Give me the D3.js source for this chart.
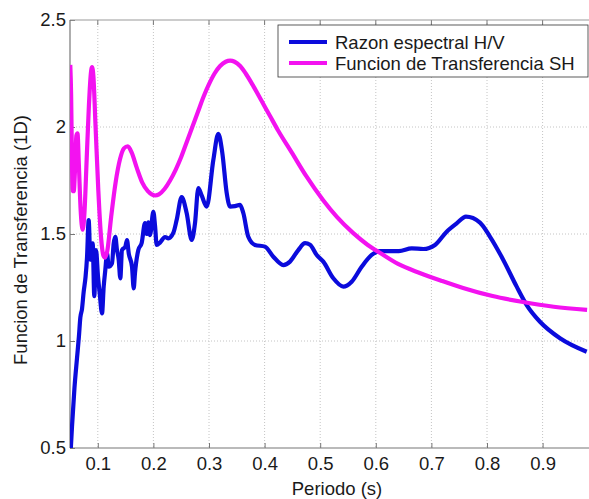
<!DOCTYPE html>
<html><head><meta charset="utf-8">
<script src="https://cdn.jsdelivr.net/npm/d3@7"></script>
<style>body{margin:0;background:#fff}svg{display:block}text{font-family:"Liberation Sans",Arial,sans-serif;fill:#1a1a1a}</style>
</head><body><svg id="c" width="589" height="499"></svg>
<script>
// Razon espectral H/V
const periodsHV = [0.0515,0.0536,0.058,0.0626,0.066,0.0686,0.0716,0.0746,0.078,0.0806,0.0836,0.0866,0.0908,0.0937,0.0968,0.1004,0.1034,0.1076,0.1106,0.1135,0.1166,0.1196,0.1255,0.1286,0.1315,0.1345,0.1376,0.1405,0.1435,0.1495,0.1525,0.1556,0.1615,0.1646,0.1669,0.1729,0.1789,0.1849,0.1879,0.1909,0.1939,0.1999,0.2029,0.2059,0.2119,0.2209,0.2268,0.2358,0.2418,0.2508,0.2598,0.2689,0.2748,0.2808,0.2868,0.2959,0.3078,0.3167,0.3239,0.3318,0.3378,0.3468,0.3558,0.3617,0.3707,0.3827,0.4007,0.4157,0.4336,0.4457,0.4606,0.4727,0.4817,0.4937,0.5056,0.5236,0.5416,0.5566,0.5746,0.5926,0.6076,0.6255,0.6415,0.6646,0.6854,0.7065,0.7275,0.7455,0.7622,0.7874,0.8055,0.8293,0.8534,0.8714,0.8953,0.9313,0.9793];
const hvValues = [0.50,0.60,0.78,0.92,1.02,1.11,1.15,1.23,1.30,1.39,1.565,1.38,1.456,1.21,1.425,1.30,1.223,1.129,1.254,1.332,1.41,1.347,1.363,1.456,1.487,1.425,1.38,1.293,1.425,1.441,1.472,1.41,1.347,1.246,1.318,1.425,1.458,1.551,1.50,1.555,1.495,1.603,1.54,1.449,1.46,1.486,1.48,1.505,1.565,1.673,1.598,1.472,1.55,1.715,1.68,1.628,1.846,1.968,1.88,1.692,1.628,1.63,1.636,1.598,1.487,1.449,1.441,1.394,1.355,1.371,1.425,1.457,1.45,1.402,1.371,1.293,1.254,1.277,1.347,1.402,1.42,1.42,1.42,1.433,1.43,1.449,1.511,1.55,1.581,1.553,1.487,1.379,1.254,1.168,1.09,1.013,0.95];
// Funcion de Transferencia SH
const periodsSH = [0.0505,0.052,0.0535,0.055,0.0567,0.059,0.0615,0.0635,0.066,0.069,0.0728,0.076,0.080,0.084,0.0875,0.0896,0.092,0.096,0.101,0.106,0.110,0.113,0.117,0.124,0.132,0.140,0.147,0.154,0.161,0.170,0.180,0.190,0.197,0.203,0.210,0.220,0.230,0.240,0.250,0.260,0.270,0.280,0.290,0.300,0.310,0.320,0.330,0.338,0.346,0.356,0.366,0.380,0.395,0.41,0.424,0.449,0.475,0.505,0.53,0.559,0.585,0.608,0.64,0.679,0.72,0.757,0.81,0.865,0.92,0.98];
const shValues = [2.29,2.15,1.85,1.70,1.70,1.80,1.96,1.97,1.82,1.62,1.52,1.60,1.85,2.10,2.25,2.28,2.24,2.00,1.70,1.48,1.40,1.39,1.42,1.58,1.74,1.85,1.90,1.91,1.88,1.81,1.74,1.70,1.685,1.68,1.685,1.71,1.75,1.80,1.86,1.93,2.00,2.07,2.14,2.20,2.25,2.285,2.305,2.31,2.305,2.285,2.25,2.19,2.12,2.05,1.985,1.88,1.77,1.659,1.58,1.505,1.45,1.411,1.36,1.318,1.28,1.248,1.21,1.182,1.16,1.145];
const xTicks = [0.1,0.2,0.3,0.4,0.5,0.6,0.7,0.8,0.9];
const yTicks = [0.5,1,1.5,2,2.5];
const legendLabels = ["Razon espectral H/V","Funcion de Transferencia SH"];
const seriesColors = ["#0b0bdc","#f312f0"];

const svg = d3.select("#c");
const L=70, T=20, B=448, R=589;
const FS = "18.5px";
const x = d3.scaleLinear().domain([0.05,0.985]).range([L,L+0.935*556]);
const y = d3.scaleLinear().domain([0.5,2.5]).range([B,T]);

// grid
const g = svg.append("g");
g.selectAll(".gx").data(xTicks).enter().append("line")
 .attr("x1",d=>x(d)).attr("x2",d=>x(d)).attr("y1",T).attr("y2",B)
 .attr("stroke","#c4c4c4").attr("stroke-width",1).attr("stroke-dasharray","1,2");
g.selectAll(".gy").data(yTicks.slice(1,-1)).enter().append("line")
 .attr("x1",L).attr("x2",R).attr("y1",d=>y(d)).attr("y2",d=>y(d))
 .attr("stroke","#c4c4c4").attr("stroke-width",1).attr("stroke-dasharray","1,2");

// clip
svg.append("clipPath").attr("id","clip").append("rect").attr("x",L).attr("y",T).attr("width",R-L).attr("height",B-T);

// axes
const xAxis = d3.axisBottom(x).tickValues(xTicks).tickSize(-5).tickPadding(9).tickFormat(d3.format(".1f"));
const yAxis = d3.axisLeft(y).tickValues(yTicks).tickSize(-5).tickPadding(4).tickFormat(d=>String(d));
const ax = svg.append("g").attr("transform",`translate(0,${B})`).call(xAxis);
const ay = svg.append("g").attr("transform",`translate(${L},0)`).call(yAxis);
[ax,ay].forEach(a=>{a.select(".domain").remove();a.selectAll(".tick line").attr("stroke","#777");
 a.selectAll("text").attr("font-size",FS).attr("fill","#1a1a1a").style("font-family","'Liberation Sans',Arial,sans-serif");});
// top ticks
svg.selectAll(".tt").data(xTicks).enter().append("line")
 .attr("x1",d=>x(d)).attr("x2",d=>x(d)).attr("y1",T).attr("y2",T+5).attr("stroke","#777");
// box
svg.append("line").attr("x1",L).attr("x2",R).attr("y1",B).attr("y2",B).attr("stroke","#777").attr("stroke-width",1.2);
svg.append("line").attr("x1",L).attr("x2",R).attr("y1",T).attr("y2",T).attr("stroke","#999").attr("stroke-width",1);
svg.append("line").attr("x1",L).attr("x2",L).attr("y1",T).attr("y2",B).attr("stroke","#777").attr("stroke-width",1.2);

// lines
const line = d3.line().x(d=>x(d[0])).y(d=>y(d[1])).curve(d3.curveMonotoneX);
const hvData = d3.zip(periodsHV,hvValues);
const shData = d3.zip(periodsSH,shValues);
const lines = svg.append("g").attr("clip-path","url(#clip)");
lines.append("path").datum(hvData).attr("d",line).attr("fill","none").attr("stroke",seriesColors[0]).attr("stroke-width",4.2).attr("stroke-linejoin","round");
lines.append("path").datum(shData).attr("d",line).attr("fill","none").attr("stroke",seriesColors[1]).attr("stroke-width",4.2).attr("stroke-linejoin","round");

// legend
const lg = svg.append("g");
lg.append("rect").attr("x",278).attr("y",25).attr("width",310).attr("height",52).attr("fill","#fff").attr("stroke","#333").attr("stroke-width",0.8);
legendLabels.forEach((t,i)=>{
 const yy = 42 + i*21;
 lg.append("line").attr("x1",289).attr("x2",327).attr("y1",yy).attr("y2",yy).attr("stroke",seriesColors[i]).attr("stroke-width",4.2);
 lg.append("text").attr("x",335).attr("y",yy+6.5).attr("font-size",FS).text(t);
});

// axis titles
svg.append("text").attr("x",337).attr("y",495).attr("text-anchor","middle").attr("font-size",FS).text("Periodo (s)");
svg.append("text").attr("transform","translate(27,240) rotate(-90)").attr("text-anchor","middle").attr("font-size",FS).text("Funcion de Transferencia (1D)");
</script></body></html>
